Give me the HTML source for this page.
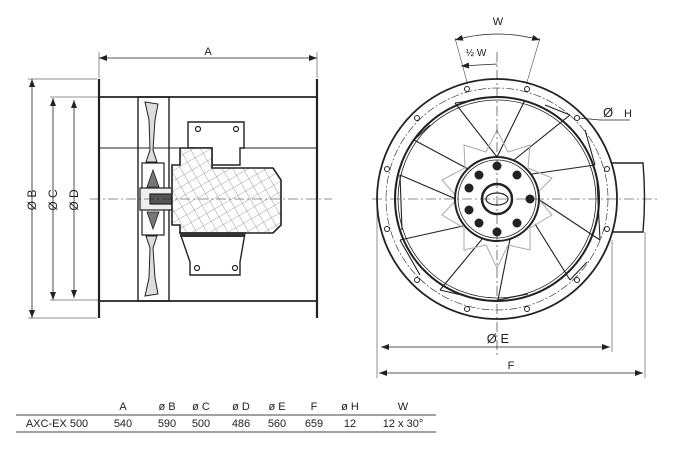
<!DOCTYPE html>
<html><head><style>
html,body{margin:0;padding:0;background:#fff}
svg{display:block}
text{font-family:"Liberation Sans",sans-serif;fill:#222}
</style></head><body>
<svg width="676" height="456" viewBox="0 0 676 456" xmlns="http://www.w3.org/2000/svg">
<defs>
<pattern id="hatch" width="9" height="9" patternUnits="userSpaceOnUse" patternTransform="rotate(-30)">
<rect width="9" height="9" fill="#fff"/>
<path d="M0 0H9M0 0V9" stroke="#888" stroke-width="0.8"/>
</pattern>
<marker id="ar" markerWidth="8" markerHeight="6" refX="8" refY="3" orient="auto-start-reverse" markerUnits="userSpaceOnUse"><path d="M0 0L8 3L0 6z" fill="#222"/></marker>
</defs>

<!-- LEFT VIEW -->
<g stroke="#222" fill="none">
<line x1="99" y1="58" x2="317" y2="58" stroke-width="0.8" marker-start="url(#ar)" marker-end="url(#ar)"/>
<line x1="99" y1="52" x2="99" y2="78" stroke-width="0.5"/>
<line x1="317" y1="52" x2="317" y2="78" stroke-width="0.5"/>
<line x1="32" y1="79" x2="32" y2="318" stroke-width="0.8" marker-start="url(#ar)" marker-end="url(#ar)"/>
<line x1="53" y1="98" x2="53" y2="300" stroke-width="0.8" marker-start="url(#ar)" marker-end="url(#ar)"/>
<line x1="74" y1="100" x2="74" y2="298" stroke-width="0.8" marker-start="url(#ar)" marker-end="url(#ar)"/>
<line x1="28" y1="79" x2="97" y2="79" stroke-width="0.5"/>
<line x1="28" y1="318" x2="97" y2="318" stroke-width="0.5"/>
<line x1="50" y1="97" x2="99" y2="97" stroke-width="0.5"/>
<line x1="50" y1="300" x2="99" y2="300" stroke-width="0.5"/>
<line x1="99" y1="79" x2="99" y2="318" stroke-width="2.2"/>
<line x1="317" y1="79" x2="317" y2="318" stroke-width="2.2"/>
<line x1="99" y1="97" x2="317" y2="97" stroke-width="1.8"/>
<line x1="99" y1="301" x2="317" y2="301" stroke-width="1.8"/>
<line x1="99" y1="148" x2="180" y2="148" stroke-width="1"/>
<line x1="244" y1="148" x2="317" y2="148" stroke-width="1"/>
<rect x="138" y="97" width="31" height="204" stroke-width="1.4"/>
<path d="M145 102 L158 104 L155 120 L153 150 L157 162 L146 162 L150 150 L149 120 Z" stroke-width="1" fill="#ddd"/>
<path d="M145 296 L158 294 L155 278 L153 248 L157 236 L146 236 L150 248 L149 278 Z" stroke-width="1" fill="#ddd"/>
<rect x="142" y="163" width="22" height="30" stroke-width="1.2"/>
<rect x="142" y="205" width="22" height="30" stroke-width="1.2"/>
<path d="M147 187 L153 170 L159 187 Z" fill="#777" stroke-width="0.8"/>
<path d="M147 212 L153 229 L159 212 Z" fill="#777" stroke-width="0.8"/>
<rect x="140" y="188" width="32" height="22" stroke-width="1.2" fill="#eee"/>
<rect x="150" y="194" width="24" height="10" stroke-width="1.2" fill="#555"/>
<path d="M188 122 H244 V148 L240 148 V165 H212 V148 H188 Z" stroke-width="1.4" fill="#fff"/>
<circle cx="198" cy="129" r="2.5" stroke-width="1.2"/>
<circle cx="236" cy="129" r="2.5" stroke-width="1.2"/>
<path d="M180 148 H212 V168 H273 L281 180 V225 L273 233 H180 V225 H172 V165 H180 Z" stroke-width="1.6" fill="url(#hatch)"/>
<path d="M180 233 H245 L240 262 V275 H190 V262 Z" stroke-width="1.4" fill="#fff"/>
<rect x="180" y="233" width="65" height="4" fill="#333" stroke="none"/>
<circle cx="197" cy="268" r="2.5" stroke-width="1.2"/>
<circle cx="235" cy="268" r="2.5" stroke-width="1.2"/>
<line x1="90" y1="199" x2="332" y2="199" stroke-width="0.6" stroke-dasharray="10 3 2 3"/>
</g>
<text x="208" y="55" font-size="11" text-anchor="middle">A</text>
<text transform="translate(36,200) rotate(-90)" font-size="12" text-anchor="middle">Ø B</text>
<text transform="translate(57,200) rotate(-90)" font-size="12" text-anchor="middle">Ø C</text>
<text transform="translate(78,200) rotate(-90)" font-size="12" text-anchor="middle">Ø D</text>

<!-- RIGHT VIEW -->
<g stroke="#222" fill="none">
<path d="M600 163 H643 Q646 198 643 232 H600" stroke-width="1.4" fill="#fff"/>
<circle cx="497" cy="199" r="120" stroke-width="1.8" fill="#fff"/>
<circle cx="497" cy="199" r="111" stroke-width="0.6" stroke-dasharray="8 2 2 2"/>
<circle cx="497" cy="199" r="102" stroke-width="2"/>
<circle cx="497" cy="199" r="99" stroke-width="0.8"/>
<g stroke-width="1">
<circle cx="467" cy="89" r="2.5"/><circle cx="527" cy="89" r="2.5"/>
<circle cx="417" cy="118" r="2.5"/><circle cx="577" cy="118" r="2.5"/>
<circle cx="387" cy="169" r="2.5"/><circle cx="607" cy="169" r="2.5"/>
<circle cx="387" cy="229" r="2.5"/><circle cx="607" cy="229" r="2.5"/>
<circle cx="417" cy="280" r="2.5"/><circle cx="577" cy="280" r="2.5"/>
<circle cx="467" cy="309" r="2.5"/><circle cx="527" cy="309" r="2.5"/>
</g>
<g stroke-width="1.1">
<path d="M497 157 L455 103 M470 170 L414 140 M456 199 L400 175 M463 226 L400 240 M483 238 L440 290 M510 239 L498 300 M535 224 L570 280 M538 199 L600 240 M532 174 L595 165 M514 160 L570 115 M497 157 L525 100"/>
<path d="M455 103 L475 100 M414 140 L430 125 M400 175 L402 230 M400 240 L420 275 M440 290 L470 297 M498 300 L528 294 M570 280 L587 262 M600 240 L597 180 M595 165 L585 130 M570 115 L545 105"/>
</g>
<path d="M497 130 L508 152 L530 145 L528 168 L552 178 L535 195 L552 215 L530 228 L530 250 L508 245 L497 268 L486 245 L464 250 L464 228 L442 215 L458 198 L442 180 L465 168 L464 145 L486 152 Z" stroke="#aaa" stroke-width="1"/>
<circle cx="497" cy="199" r="42" stroke-width="2" fill="#fff"/>
<circle cx="497" cy="199" r="39" stroke-width="0.8"/>
<g fill="#222" stroke="none">
<circle cx="497" cy="166" r="4.5"/><circle cx="497" cy="232" r="4.5"/>
<circle cx="530" cy="199" r="4.5"/>
<circle cx="479" cy="175" r="4.5"/><circle cx="517" cy="175" r="4.5"/>
<circle cx="469" cy="188" r="4.5"/><circle cx="469" cy="210" r="4.5"/>
<circle cx="479" cy="223" r="4.5"/><circle cx="517" cy="223" r="4.5"/>
<circle cx="525" cy="187" r="0"/>
</g>
<circle cx="497" cy="199" r="15" stroke-width="2.5"/>
<ellipse cx="497" cy="199" rx="11" ry="6" stroke-width="1.2"/>
<line x1="372" y1="199" x2="658" y2="199" stroke-width="0.6" stroke-dasharray="10 3 2 3"/>
<line x1="497" y1="52" x2="497" y2="358" stroke-width="0.6" stroke-dasharray="10 3 2 3"/>
<path d="M455 40 Q497 28 540 40" stroke-width="0.7" marker-start="url(#ar)" marker-end="url(#ar)"/>
<line x1="455" y1="38" x2="467" y2="82" stroke-width="0.5"/>
<line x1="540" y1="38" x2="527" y2="82" stroke-width="0.5"/>
<line x1="461" y1="66" x2="497" y2="64" stroke-width="0.7" marker-start="url(#ar)"/>
<path d="M579 118 L600 120 H630" stroke-width="0.7"/>
<line x1="377" y1="200" x2="377" y2="378" stroke-width="0.5"/>
<line x1="612" y1="240" x2="612" y2="352" stroke-width="0.5"/>
<line x1="645" y1="232" x2="645" y2="378" stroke-width="0.5"/>
<line x1="381" y1="347" x2="610" y2="347" stroke-width="0.8" marker-start="url(#ar)" marker-end="url(#ar)"/>
<line x1="379" y1="373" x2="643" y2="373" stroke-width="0.8" marker-start="url(#ar)" marker-end="url(#ar)"/>
</g>
<text x="498" y="25" font-size="11" text-anchor="middle">W</text>
<text x="476" y="56" font-size="10" text-anchor="middle">½ W</text>
<text x="603" y="117" font-size="13">Ø</text>
<text x="624" y="117" font-size="11">H</text>
<text x="498" y="343" font-size="13" text-anchor="middle">Ø E</text>
<text x="511" y="369" font-size="11" text-anchor="middle">F</text>

<g font-size="11" text-anchor="middle">
<text x="123" y="410">A</text><text x="167" y="410">ø B</text><text x="201" y="410">ø C</text><text x="241" y="410">ø D</text><text x="277" y="410">ø E</text><text x="314" y="410">F</text><text x="350" y="410">ø H</text><text x="403" y="410">W</text>
<text x="57" y="427">AXC-EX 500</text><text x="123" y="427">540</text><text x="167" y="427">590</text><text x="201" y="427">500</text><text x="241" y="427">486</text><text x="277" y="427">560</text><text x="314" y="427">659</text><text x="350" y="427">12</text><text x="403" y="427">12 x 30°</text>
</g>
<line x1="16" y1="415" x2="436" y2="415" stroke="#444" stroke-width="1"/>
<line x1="16" y1="432" x2="436" y2="432" stroke="#444" stroke-width="1"/>
</svg>
</body></html>
